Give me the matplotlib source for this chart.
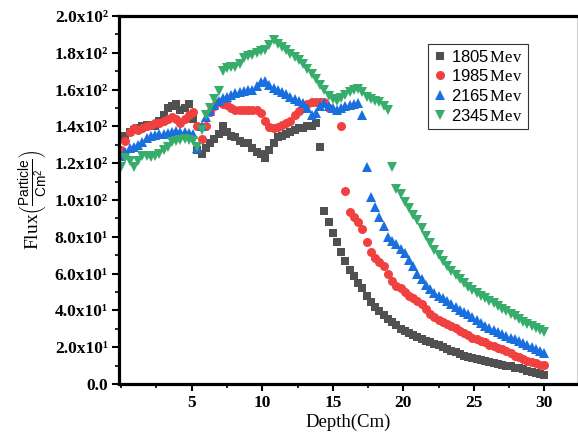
import numpy as np
import matplotlib
matplotlib.use("Agg")
import matplotlib.pyplot as plt
from matplotlib.ticker import MultipleLocator

# depth grid (cm), 0.3 cm steps from 0 to 30
depth = np.round(np.arange(0, 101) * 0.3, 1)

nan = np.nan
flux_1805 = [133, 135, 137, 138, 139, 140, 141, 140, 140, 143,
             146, 150, 151, 152, 149, 150, 152, 144, 127, 125,
             128, 131, 133, 136, 140, 137, 135, 134, 132, 131,
             131, 128, 126, 125, 123, 127, 131, 134, 135, 136,
             137, 138, 139, 139, 140, 140, 142, 129, 94, 88,
             82, 77, 72, 67, 62, 58.5, 55, 52, 48, 44.6,
             42, 39.5, 37.5, 35.5, 33.5, 32, 30, 28.8, 27.6, 26.5,
             25.5, 24.5, 23.5, 22.6, 21.8, 21, 20, 19, 18.2, 17.3,
             16.5, 15.5, 14.8, 14.3, 13.8, 13.3, 12.8, 12, 11.3, 10.7,
             10.2, 10, 9.6, 9, 8.5, 8, 7.3, 6.5, 6, 5.4, 5]
flux_1985 = [127, 132, 137, 139, 138, 139, 140, 141, 142, 142,
             143, 144, 145, 144, 142, 144, 146, 148, 140, 133,
             140, 148, 151, 153, 152, 151.5, 150, 149, 149, 149,
             149, 149, 149, 147, 143, 139.7, 139, 139.7, 141, 142,
             143, 146, 148.5, 150, 152, 153, 153, 153, 153, 150,
             nan, nan, 140, 105, 93.5, 91, 88, 84.5, 77, 71.5,
             68.5, 66.5, 64, 60, 56, 53.5, 52, 50, 48, 46.5,
             45, 43.5, 41, 38, 36.5, 35, 34, 32.8, 31.7, 30.5,
             29, 27.5, 26.4, 25.2, 24.3, 23.5, 22.6, 21.5, 20.6, 19.8,
             19, 18, 16.8, 15.5, 14.5, 13.5, 12.7, 11.8, 11.2, 10.6, 10.2]
flux_2165 = [124, 126, 128, 129, 130, 131.5, 133.5, 134.5, 135.5, 136,
             136, 136.5, 137, 137.5, 137, 137, 136.5, 136, 128, 140,
             145, 148.5, 151.5, 154, 155.5, 156, 157, 158, 158.7, 159,
             159.5, 160, 162, 164, 164.5, 162.5, 161, 160, 158.7, 157.5,
             156, 155, 154, 152.7, 150, 146, 147, 151, 152.7, 151,
             150, 149, 150, 151, 151.6, 152, 152.7, 146, 118, 101.6,
             96, 91, 86, 80, 78, 76, 73.5, 71, 67.5, 64,
             60, 57, 54, 51.5, 49.5, 48, 46.5, 45, 43.5, 42,
             40.5, 39.3, 38, 36.5, 34.8, 33, 31.5, 30.5, 29.4, 28.3,
             27.3, 26.3, 25.3, 24.4, 23.6, 22.5, 21.5, 20.3, 19, 18, 17]
flux_2345 = [118, 123, 121, 118, 121, 124, 124, 123.5, 124, 125,
             127, 129, 131.5, 132, 132.5, 133, 132.6, 132, 129, 138,
             146, 150, 155, 159, 170, 171.5, 172, 172, 174, 177,
             178, 179, 180, 181, 181.5, 184, 187, 185, 183, 181.5,
             179.5, 177.7, 176, 174, 171, 168.5, 166, 162.5, 160, 156.5,
             155, 154, 155.5, 157, 158.5, 160, 160.5, 158.5, 156, 155,
             154, 153, 151, 149, 118, 106, 103, 99, 95.5, 92,
             89, 85, 80.5, 76.6, 73, 70, 67, 64, 61.5, 59,
             57, 55, 53, 51.3, 49.5, 48, 46.5, 45.2, 44, 42.5,
             41, 39.5, 38.2, 36.8, 35.5, 34, 32.8, 31.5, 30.3, 29.2, 28.3]

labels = ['1805', '1985', '2165', '2345']
colors = ['#515151', '#F14040', '#1A6FDF', '#37AD6B']
markers = ['s', 'o', '^', 'v']
sizes = [6, 6.5, 7, 7]

ytick_vals = [0, 20, 40, 60, 80, 100, 120, 140, 160, 180, 200]
ytick_labels = ['0.0', '2.0x10¹', '4.0x10¹', '6.0x10¹', '8.0x10¹',
                '1.0x10²', '1.2x10²', '1.4x10²', '1.6x10²', '1.8x10²', '2.0x10²']

plt.rcParams['mathtext.fontset'] = 'custom'
plt.rcParams['mathtext.rm'] = 'Liberation Serif'
plt.rcParams['mathtext.sf'] = 'Liberation Sans'
plt.rcParams['mathtext.it'] = 'Liberation Serif:italic'

fig = plt.figure(figsize=(5.78, 4.42), dpi=100)
ax = fig.add_axes([0.206, 0.131, 0.792, 0.833])

all_flux = [flux_1805, flux_1985, flux_2165, flux_2345]
for i in range(4):
    ax.plot(depth, all_flux[i], linestyle='none', marker=markers[i],
            markersize=sizes[i], color=colors[i], markeredgewidth=0,
            label=labels[i] + r'$\,\mathrm{Mev}$')

ax.set_xlim(-0.15, 32.3)
ax.set_ylim(0, 200)
ax.set_xticks([5, 10, 15, 20, 25, 30])
ax.xaxis.set_minor_locator(MultipleLocator(2.5))
ax.set_yticks(ytick_vals)
ax.set_yticklabels(ytick_labels)
ax.yaxis.set_minor_locator(MultipleLocator(10))

for lab in ax.get_xticklabels() + ax.get_yticklabels():
    lab.set_fontfamily('Liberation Serif')
    lab.set_fontweight('bold')
    lab.set_fontsize(12.5)

ax.tick_params(which='major', direction='out', length=5, width=1.5, pad=3)
ax.tick_params(which='minor', direction='out', length=3, width=1.2)
ax.tick_params(top=False, right=False, which='both')

for s in ['left', 'bottom', 'top']:
    ax.spines[s].set_linewidth(2.3)
    ax.spines[s].set_color('black')
ax.spines['right'].set_linewidth(0.8)
ax.spines['right'].set_color('#d0d0d0')

ax.set_xlabel('Depth(Cm)', fontfamily='Liberation Serif', fontsize=13.5, labelpad=2)
ax.set_ylabel(r'Flux$\left(\frac{\mathsf{Particle}}{\mathsf{Cm}^{\mathsf{2}}}\right)$',
              fontfamily='Liberation Serif', fontsize=14, labelpad=3)

leg = ax.legend(loc='upper left', bbox_to_anchor=(0.675, 0.925), frameon=True,
                fancybox=False, edgecolor='black', handlelength=0.8,
                handletextpad=0.3, borderpad=0.3, labelspacing=0.22,
                borderaxespad=0.0,
                prop={'family': 'Liberation Sans', 'size': 12})
leg.get_frame().set_linewidth(0.8)

fig.savefig('out.png', dpi=100)
